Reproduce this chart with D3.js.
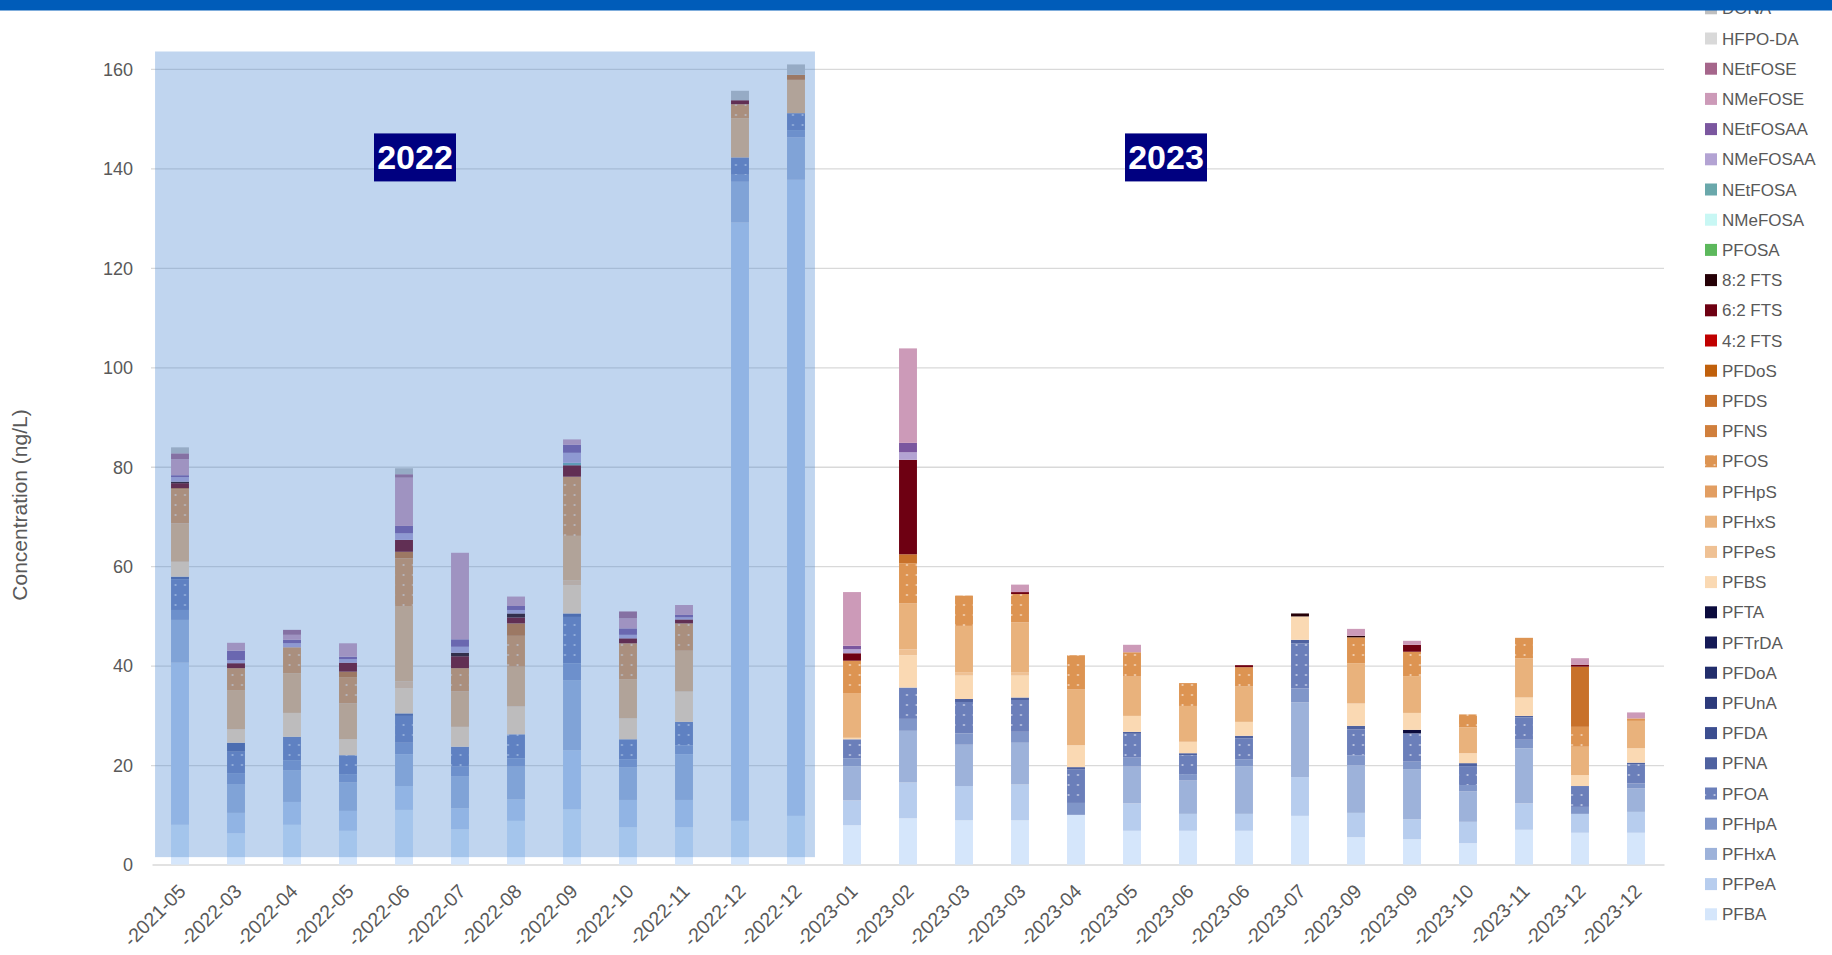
<!DOCTYPE html>
<html><head><meta charset="utf-8">
<script src="https://cdn.jsdelivr.net/npm/d3@7"></script>
<style>
body{margin:0;background:#fff;overflow:hidden}
svg{display:block;font-family:"Liberation Sans",Arial,sans-serif}
</style>
</head><body>
<svg id="chart" width="1832" height="955"></svg>
<script>
// ---------- DATA ----------
const categories = ["-2021-05","-2022-03","-2022-04","-2022-05","-2022-06","-2022-07","-2022-08","-2022-09","-2022-10","-2022-11","-2022-12","-2022-12",
  "-2023-01","-2023-02","-2023-03","-2023-03","-2023-04","-2023-05","-2023-06","-2023-06","-2023-07","-2023-09","-2023-09","-2023-10","-2023-11","-2023-12","-2023-12"];
const yTicks = [0,20,40,60,80,100,120,140,160];
const periodLabels = ["2022","2023"];

// stack order, bottom to top
const seriesNames = ["PFBA","PFPeA","PFHxA","PFHpA","PFOA","PFNA","PFDA","PFUnA","PFDoA","PFTrDA","PFTA",
  "PFBS","PFPeS","PFHxS","PFHpS","PFOS","PFNS","PFDS","PFDoS","4:2 FTS","6:2 FTS","8:2 FTS",
  "PFOSA","NMeFOSA","NEtFOSA","NMeFOSAA","NEtFOSAA","NMeFOSE","NEtFOSE","HFPO-DA","DONA"];
const seriesColors = ["#d5e6fb","#b7cdee","#9db2da","#8096c9","#6b7fba","#4f62a0","#3c4e90","#2c3a7b","#222e6c","#151a57","#0b0b3d",
  "#fad9b3","#efc194","#e9b27c","#e29e62","#dd9452","#d07f3c","#c8712a","#c0600c","#c00000","#6e0012","#250006",
  "#5cb85c","#c8f7f4","#6aa8ab","#b3a3d3","#7b579f","#cc9ab8","#a5668b","#d9d9d9","#bfbfbf"];
const dottedSeries = ["PFOS","PFOA"];

const z = () => new Array(27).fill(0);
const PFBA   = [8.0,6.3,8.0,6.8,11.0,7.1,8.8,11.1,7.5,7.5,8.8,9.8, 7.9,9.3,8.9,8.9,10.0,6.8,6.8,6.8,9.8,5.5,5.1,4.3,7.0,6.4,6.4];
const PFPeA  = [32.6,4.1,4.6,4.0,4.8,4.2,4.3,11.9,5.5,5.5,120.3,127.9, 5.0,7.2,6.9,7.2,0,5.5,3.4,3.4,7.8,4.9,4.0,4.3,5.3,3.8,4.2];
const PFHxA  = [8.6,5.8,6.4,5.7,6.4,6.5,6.6,14.1,6.6,9.2,8.2,8.5, 6.9,10.4,8.3,8.4,0,7.4,6.7,9.6,15.0,9.6,10.1,6.1,11.1,0,4.7];
const PFHpA  = [2.0,2.2,2.0,1.7,2.3,1.9,1.7,3.4,1.6,1.8,1.4,1.5, 1.6,2.4,2.3,2.2,2.4,1.8,1.3,1.4,2.8,2.0,1.5,1.3,1.7,1.4,1.0];
const PFOA   = [6.2,4.3,4.7,3.8,5.4,4.0,4.8,9.3,4.0,4.7,3.5,3.4, 3.8,6.3,6.3,6.4,6.7,4.8,3.8,4.2,9.1,5.2,5.7,3.8,4.5,4.2,3.9];
const PFNA   = [0.5,1.8,0,0,0.5,0,0,0.7,0,0,0,0, 0,0,0.6,0.5,0.5,0.4,0.4,0.5,0.7,0.7,0,0.6,0.3,0,0.3];
const PFDA   = z();
const PFUnA  = z();
const PFDoA  = z();
const PFTrDA = z();
const PFTA   = [0,0,0,0,0,0,0,0,0,0,0,0, 0,0,0,0,0,0,0,0,0,0,0.7,0,0,0,0];
const PFBS   = [3.0,2.7,4.8,3.2,5.1,4.0,5.6,5.7,4.2,6.1,0,0, 0.3,6.5,4.7,4.4,4.4,3.2,2.3,2.8,4.7,4.5,3.4,2.0,3.7,2.2,2.9];
const PFPeS  = [0,0,0,0,1.3,0,0,1.0,0,0,0,0, 0,1.2,0.7,0.7,0,0,0,0,0,0,0,0,0,0,0];
const PFHxS  = [7.7,7.9,8.0,7.2,15.2,7.1,8.0,8.9,7.9,8.2,7.9,6.7, 9.0,9.2,9.3,10.0,11.2,7.9,7.2,7.1,0,8.1,7.4,5.2,7.9,5.7,5.5];
const PFHpS  = z();
const PFOS   = [6.9,4.4,5.2,5.3,9.6,4.7,6.2,11.9,7.2,5.5,2.8,0, 6.5,8.1,6.1,5.7,6.9,4.9,4.6,3.9,0,5.2,4.9,2.6,4.1,4.0,0.5];
const PFNS   = z();
const PFDS   = [0.2,0,0,1.1,1.3,0,2.5,0,0,0,0,1.0, 0,1.8,0,0,0,0,0,0,0,0,0,0,0,12.1,0];
const PFDoS  = z();
const FTS42  = z();
const FTS62  = [1.0,1.0,0,1.8,2.4,2.4,1.2,2.3,1.0,0.8,0.8,0, 1.5,19.0,0,0.4,0,0,0,0.4,0,0,1.4,0,0,0.4,0];
const FTS82  = [0.3,0,0,0,0,0.7,0.8,0,0,0,0,0, 0,0,0,0,0,0,0,0,0.6,0.3,0,0,0,0,0];
const PFOSA  = z();
const NMeFOSA = z();
const NEtFOSA = [0,0,0,0,0,0,0,0.5,0,0,0,0, 0,0,0,0,0,0,0,0,0,0,0,0,0,0,0];
const NMeFOSAA = [0.9,0.6,0.8,0.7,1.3,1.2,0.7,2.0,0.7,0.4,0,0, 0.8,1.5,0,0,0,0,0,0,0,0,0,0,0,0,0];
const NEtFOSAA = [0.4,1.9,0.7,0.5,1.5,1.5,0.8,1.6,1.3,0.5,0,0, 0.7,1.9,0,0,0,0,0,0,0,0,0,0,0,0,0];
const NMeFOSE  = [3.2,1.6,1.0,2.7,9.7,17.4,1.9,1.1,2.0,2.0,0,0, 10.8,19.0,0,1.5,0,1.5,0,0,0,1.4,0.8,0,0,1.3,1.2];
const NEtFOSE  = [1.2,0,1.0,0,0.7,0,0,0,1.4,0,0,0, 0,0,0,0,0,0,0,0,0,0,0,0,0,0,0];
const HFPODA   = z();
const DONA     = [1.2,0,0,0,1.2,0,0,0,0,0,1.9,2.1, 0,0,0,0,0,0,0,0,0,0,0,0,0,0,0];

const seriesValues = [PFBA,PFPeA,PFHxA,PFHpA,PFOA,PFNA,PFDA,PFUnA,PFDoA,PFTrDA,PFTA,
  PFBS,PFPeS,PFHxS,PFHpS,PFOS,PFNS,PFDS,PFDoS,FTS42,FTS62,FTS82,
  PFOSA,NMeFOSA,NEtFOSA,NMeFOSAA,NEtFOSAA,NMeFOSE,NEtFOSE,HFPODA,DONA];

// ---------- CHART ----------
const svg = d3.select("#chart");
const W = 1832, H = 955;
const plot = {left:152, right:1664, top:68.9, bottom:864.6};

const rows = categories.map((c,i)=>{
  const r = {idx:i, label:c};
  seriesNames.forEach((s,k)=> r[s] = seriesValues[k][i]);
  return r;
});
const stack = d3.stack().keys(seriesNames)(rows);

const x = d3.scaleBand().domain(d3.range(categories.length))
  .range([plot.left, plot.right]).paddingInner(0.68).paddingOuter(0.34);
const y = d3.scaleLinear().domain([0,160]).range([plot.bottom, plot.top]);
const color = d3.scaleOrdinal().domain(seriesNames).range(seriesColors);

// patterns
const defs = svg.append("defs");
dottedSeries.forEach(s=>{
  const p = defs.append("pattern").attr("id","pat-"+s).attr("patternUnits","userSpaceOnUse")
    .attr("width",9.5).attr("height",10);
  p.append("rect").attr("width",9.5).attr("height",10).attr("fill",color(s));
  p.append("circle").attr("cx",4.5).attr("cy",5).attr("r",1.1).attr("fill","#ffffff").attr("opacity",0.6);
});
const fillOf = s => dottedSeries.includes(s) ? `url(#pat-${s})` : color(s);

// gridlines
svg.append("g").attr("class","grid")
  .attr("transform",`translate(${plot.left-1},0)`)
  .call(d3.axisLeft(y).tickValues(yTicks.filter(t=>t>0)).tickSize(-(plot.right-plot.left+1)).tickFormat(""))
  .call(g=>g.select(".domain").remove())
  .call(g=>g.selectAll("line").attr("stroke","#d9d9d9").attr("stroke-width",1.3));

// x axis line
svg.append("g").attr("transform",`translate(0,${y(0)})`)
  .call(d3.axisBottom(x).tickSize(0).tickFormat(""))
  .call(g=>g.select(".domain").attr("stroke","#d9d9d9").attr("stroke-width",1.5));

// bars
const gBars = svg.append("g");
stack.forEach(layer=>{
  const s = layer.key;
  gBars.selectAll(null).data(layer.filter(d=>d[1]-d[0]>0)).join("rect")
    .attr("x", d=>x(d.data.idx))
    .attr("width", x.bandwidth())
    .attr("y", d=>y(d[1]))
    .attr("height", d=>y(d[0])-y(d[1]))
    .attr("fill", fillOf(s));
});

// 2022 shaded period
const ovLeft = x(0) - 16, ovRight = x(11) + x.bandwidth() + 10;
svg.append("rect")
  .attr("x", ovLeft).attr("y", y(163.5))
  .attr("width", ovRight-ovLeft).attr("height", y(1.5)-y(163.5))
  .attr("fill","#4a86d0").attr("opacity",0.35);

// period labels
const labelPos = [ (x(4)+x(5))/2 + x.bandwidth()/2 - 17, (x(17)+x(18))/2 + x.bandwidth()/2 + 6 ];
periodLabels.forEach((t,i)=>{
  const cx = labelPos[i], cy = y(142.2);
  svg.append("rect").attr("x",cx-41).attr("y",cy-24).attr("width",82).attr("height",48).attr("fill","#000080");
  svg.append("text").attr("x",cx).attr("y",cy+12).attr("text-anchor","middle")
    .attr("fill","#fff").attr("font-weight","bold").attr("font-size",34).text(t);
});

// y tick labels
svg.append("g").attr("transform",`translate(133,0)`)
  .call(d3.axisLeft(y).tickValues(yTicks).tickSize(0).tickPadding(0))
  .call(g=>g.select(".domain").remove())
  .call(g=>g.selectAll("text").attr("fill","#595959").attr("font-size",18)
      .attr("font-family","'Liberation Sans',Arial,sans-serif").attr("dy","0.35em"));

// x labels
svg.append("g").selectAll("text").data(categories).join("text")
  .attr("transform",(d,i)=>`translate(${x(i)+x.bandwidth()/2+7},${y(0)+28}) rotate(-45)`)
  .attr("text-anchor","end").attr("fill","#595959").attr("font-size",19.5)
  .text(d=>d);

// y title
svg.append("text").attr("transform",`translate(27,505) rotate(-90)`)
  .attr("text-anchor","middle").attr("fill","#595959").attr("font-size",21)
  .text("Concentration (ng/L)");

// legend (reverse of stack)
const legendNames = seriesNames.slice().reverse();
const lg = svg.append("g");
legendNames.forEach((s,i)=>{
  const cy = 8.3 + i*30.2;
  lg.append("rect").attr("x",1705).attr("y",cy-6).attr("width",12).attr("height",12).attr("fill",fillOf(s));
  lg.append("text").attr("x",1722).attr("y",cy+6).attr("font-size",17).attr("fill","#595959").text(s);
});

// top banner
svg.append("rect").attr("x",0).attr("y",0).attr("width",W).attr("height",10.5).attr("fill","#005cb9");
</script>
</body></html>
